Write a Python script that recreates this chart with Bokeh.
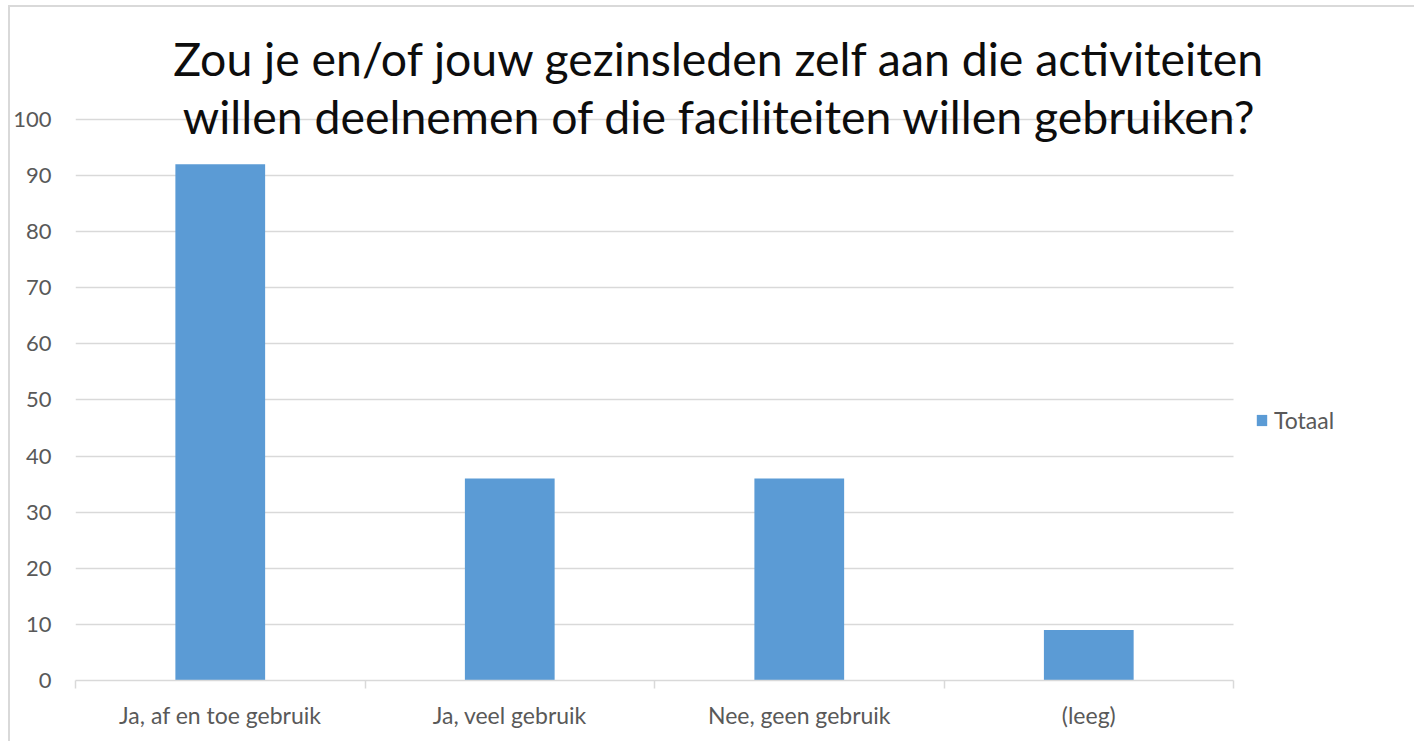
from bokeh.plotting import figure
from bokeh.models import Range1d, FixedTicker, Label, Legend, LegendItem, ColumnDataSource
from bokeh.embed import file_html
from bokeh.resources import INLINE

title_lines = ["Zou je en/of jouw gezinsleden zelf aan die activiteiten",
               "willen deelnemen of die faciliteiten willen gebruiken?"]
categories = ["Ja, af en toe gebruik", "Ja, veel gebruik", "Nee, geen gebruik", "(leeg)"]
totaal = [92, 36, 36, 9]
y_ticks = [0, 10, 20, 30, 40, 50, 60, 70, 80, 90, 100]
series_name = "Totaal"

FONT = "Lato"
LABEL_COLOR = "#595959"
GRID_COLOR = "#d9d9d9"
BAR_COLOR = "#5b9bd5"

n = len(categories)
centers = [i + 0.5 for i in range(n)]
bounds = [float(i) for i in range(n + 1)]

p = figure(width=1406, height=736, output_backend="svg", toolbar_location=None,
           x_range=Range1d(0, 4.632), y_range=Range1d(0, 119.96),
           min_border_left=65, min_border_right=0, min_border_top=0, min_border_bottom=63,
           margin=(5, 0, 0, 8),
           styles={"border-top": "2px solid #d9d9d9", "border-left": "2px solid #d9d9d9",
                   "border-right": "0px", "border-bottom": "0px"})
p.outline_line_color = None
p.background_fill_color = "white"
p.border_fill_color = "white"

# y grid, limited to the category extent
ygrid = p.ygrid[0]
ygrid.ticker = FixedTicker(ticks=y_ticks)
use_cross = "cross_bounds" in ygrid.properties()
if use_cross:
    ygrid.cross_bounds = (0, n)
    ygrid.grid_line_color = GRID_COLOR
    ygrid.grid_line_width = 1.5
else:
    ygrid.grid_line_color = None
    p.segment(x0=[0] * len(y_ticks[1:]), x1=[n] * len(y_ticks[1:]), y0=y_ticks[1:], y1=y_ticks[1:],
              line_color=GRID_COLOR, line_width=1.5)
p.xgrid.grid_line_color = None

src = ColumnDataSource(dict(x=centers, top=totaal))
r = p.vbar(x="x", top="top", width=0.31, source=src, fill_color=BAR_COLOR, line_color=None)

# y axis
p.yaxis.ticker = FixedTicker(ticks=y_ticks)
p.yaxis.axis_line_color = None
p.yaxis.major_tick_line_color = None
p.yaxis.minor_tick_line_color = None
p.yaxis.major_label_standoff = 18
p.yaxis.major_label_text_font = FONT
p.yaxis.major_label_text_font_size = "22px"
p.yaxis.major_label_text_color = LABEL_COLOR

# x axis
p.xaxis.bounds = (0, n)
p.xaxis.ticker = FixedTicker(ticks=centers, minor_ticks=bounds)
p.xaxis.major_label_overrides = {c: lab for c, lab in zip(centers, categories)}
p.xaxis.axis_line_color = GRID_COLOR
p.xaxis.axis_line_width = 1.5
p.xaxis.major_tick_line_color = None
p.xaxis.major_tick_out = 0
p.xaxis.minor_tick_line_color = GRID_COLOR
p.xaxis.minor_tick_line_width = 1.5
p.xaxis.minor_tick_in = 0
p.xaxis.minor_tick_out = 8
p.xaxis.major_label_standoff = 12
p.xaxis.major_label_text_font = FONT
p.xaxis.major_label_text_font_size = "23px"
p.xaxis.major_label_text_color = LABEL_COLOR

# title inside the chart area
title_x = 2.2245
for txt, yb in zip(title_lines, [110.9, 100.6]):
    p.add_layout(Label(x=title_x, y=yb, text=txt, text_align="center", text_baseline="alphabetic",
                       text_font=FONT, text_font_size="46.4px", text_color="#0d0d0d"))

legend = Legend(items=[LegendItem(label=series_name, renderers=[r])],
                location=(1180, 246), border_line_color=None, background_fill_alpha=0,
                padding=0, margin=0, glyph_width=13, glyph_height=14, label_standoff=6,
                label_text_font=FONT, label_text_font_size="23px", label_text_color=LABEL_COLOR)
p.add_layout(legend, "center")

open("out.html", "w").write(file_html(p, INLINE))
